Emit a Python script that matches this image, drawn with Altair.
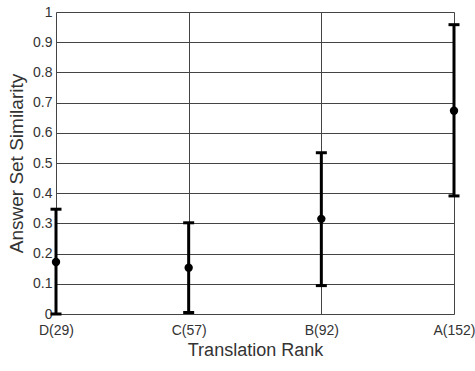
import altair as alt
import pandas as pd

ranks = ["D(29)", "C(57)", "B(92)", "A(152)"]
means = [0.172, 0.153, 0.315, 0.673]
lows = [0.0, 0.005, 0.094, 0.391]
highs = [0.347, 0.302, 0.534, 0.958]
y_ticks = [0, 0.1, 0.2, 0.3, 0.4, 0.5, 0.6, 0.7, 0.8, 0.9, 1]

df = pd.DataFrame({"rank": ranks, "mean": means, "low": lows, "high": highs})

FONT = "Liberation Sans"

xaxis = alt.Axis(grid=True, gridColor="#444", gridWidth=1, ticks=False,
                 domain=False, labelAngle=0, labelFont=FONT, labelFontSize=14,
                 labelColor="#333", labelPadding=9, labelOverlap=False,
                 titleFont=FONT, titleFontSize=18, titleFontWeight="normal",
                 titleColor="#333", titlePadding=4)
yscale = alt.Scale(domain=[0, 1], nice=False, zero=True)
yaxis = alt.Axis(values=y_ticks, grid=True, gridColor="#444",
                 gridWidth=1, ticks=False, domain=False, labelFont=FONT,
                 labelFontSize=14, labelColor="#333", labelPadding=4,
                 labelOverlap=False, labelBound=False, labelFlush=False,
                 titleFont=FONT, titleFontSize=19, titleFontWeight="normal",
                 titleColor="#333", titlePadding=6, format="~g")

xenc = alt.X("rank:N", sort=ranks, title="Translation Rank",
             scale=alt.Scale(type="point", padding=0), axis=xaxis)

base = alt.Chart(df).encode(x=xenc)

ytitle = "Answer Set Similarity"
bars = base.mark_rule(color="black", strokeWidth=3).encode(
    y=alt.Y("low:Q", scale=yscale, axis=yaxis, title=ytitle),
    y2="high:Q",
)
cap_lo = base.mark_tick(color="black", thickness=3, size=11, opacity=1).encode(
    y=alt.Y("low:Q", scale=yscale, axis=yaxis, title=ytitle))
cap_hi = base.mark_tick(color="black", thickness=3, size=11, opacity=1).encode(
    y=alt.Y("high:Q", scale=yscale, axis=yaxis, title=ytitle))
pts = base.mark_point(filled=True, color="black", size=70, opacity=1).encode(
    y=alt.Y("mean:Q", scale=yscale, axis=yaxis, title=ytitle))

chart = alt.layer(bars, cap_lo, cap_hi, pts).properties(
    width=398, height=302,
    autosize=alt.AutoSizeParams(type="none"),
    padding={"left": 56, "top": 12, "right": 21, "bottom": 57},
).configure_view(stroke="#333", strokeWidth=1.5).configure(background="white")

chart.save("out.html", embed_options={"renderer": "svg", "actions": False})
